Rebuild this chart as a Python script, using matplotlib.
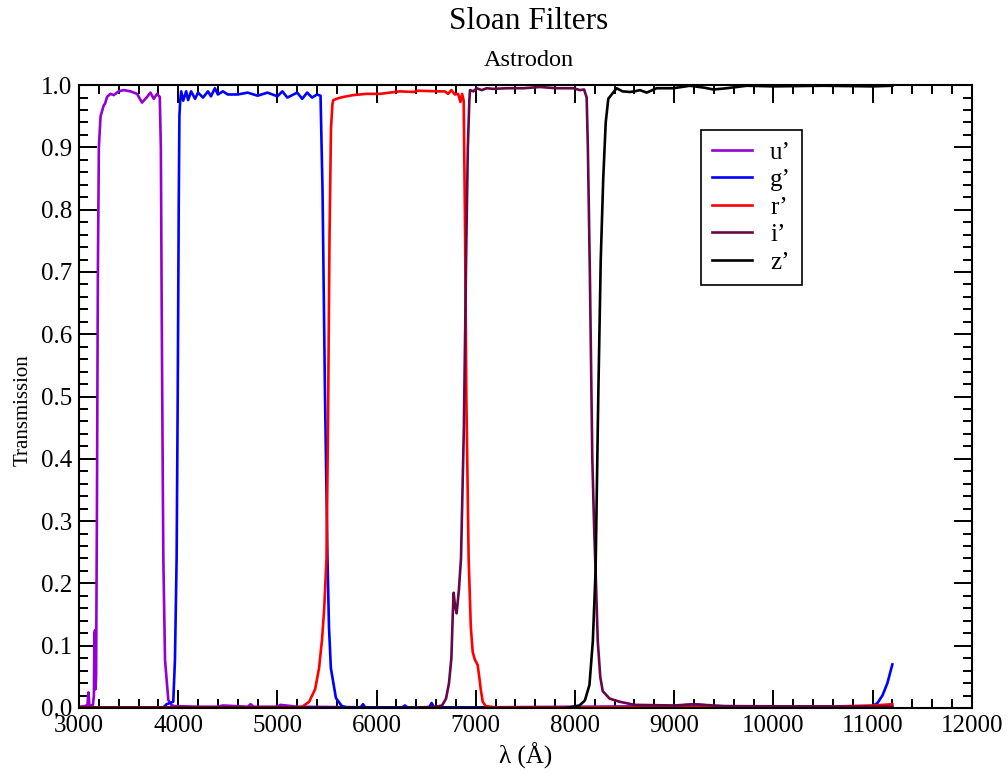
import matplotlib
matplotlib.use("Agg")
import matplotlib.pyplot as plt
from matplotlib.ticker import MultipleLocator, FormatStrFormatter

plt.rcParams["font.family"] = ["Liberation Serif", "DejaVu Serif"]

# Filtertransmission (vaglangd i Angstrom, transmission 0-1), avlast fran bilden
u_wl = [3000, 3060, 3085, 3095, 3105, 3140, 3150, 3155, 3162, 3166, 3172, 3180, 3190,
        3200, 3217, 3250, 3262, 3282, 3316, 3350, 3400, 3450, 3518, 3585, 3635, 3686,
        3720, 3753, 3787, 3814, 3825, 3835, 3843, 3850, 3867, 3900, 3930, 3960, 4200,
        4400, 4450, 4700, 4730, 4760, 5000, 5030, 5200, 6000, 7000, 8000, 9000, 9200,
        9400, 10000, 11200]
u_tr = [0.002, 0.003, 0.005, 0.025, 0.003, 0.005, 0.02, 0.12, 0.125, 0.03, 0.05, 0.3, 0.7,
        0.9, 0.95, 0.968, 0.97, 0.981, 0.986, 0.984, 0.99, 0.992, 0.99, 0.986, 0.972, 0.981,
        0.988, 0.978, 0.986, 0.981, 0.9, 0.6, 0.4, 0.24, 0.077, 0.013, 0.005, 0.003, 0.002,
        0.002, 0.004, 0.002, 0.006, 0.002, 0.002, 0.005, 0.002, 0.001, 0.001, 0.002, 0.003,
        0.006, 0.003, 0.002, 0.002]

g_wl = [3000, 3850, 3883, 3950, 3967, 3984, 3995, 4005, 4012, 4020, 4030, 4050, 4080,
        4100, 4130, 4170, 4200, 4250, 4300, 4330, 4370, 4400, 4450, 4500, 4600, 4700,
        4800, 4900, 5000, 5050, 5100, 5200, 5250, 5300, 5350, 5400, 5435, 5455, 5480,
        5505, 5520, 5539, 5590, 5650, 5700, 5840, 5863, 5885, 6260, 6286, 6310, 6530,
        6555, 6580, 7000, 8000, 9000, 10000, 10900, 11000, 11050, 11100, 11150, 11200]
g_tr = [0.0, 0.001, 0.006, 0.01, 0.077, 0.24, 0.5, 0.8, 0.95, 0.975, 0.99, 0.975, 0.99,
        0.976, 0.99, 0.978, 0.988, 0.98, 0.99, 0.982, 0.995, 0.985, 0.99, 0.985, 0.985, 0.988,
        0.983, 0.988, 0.982, 0.99, 0.98, 0.988, 0.978, 0.988, 0.98, 0.985, 0.983, 0.83, 0.5,
        0.24, 0.13, 0.064, 0.016, 0.003, 0.001, 0.001, 0.006, 0.001, 0.001, 0.004, 0.001, 0.001,
        0.008, 0.001, 0.001, 0.001, 0.001, 0.001, 0.002, 0.003, 0.008, 0.02, 0.04, 0.07]

r_wl = [3000, 5200, 5250, 5320, 5380, 5420, 5450, 5472, 5495, 5510, 5525, 5540, 5555,
        5564, 5614, 5665, 5765, 5900, 6034, 6135, 6235, 6370, 6420, 6637, 6687, 6721,
        6754, 6788, 6822, 6845, 6862, 6878, 6890, 6905, 6928, 6950, 6969, 6990, 7019,
        7035, 7050, 7070, 7100, 7200, 9000, 10500, 11000, 11200]
r_tr = [0.001, 0.001, 0.002, 0.01, 0.03, 0.064, 0.11, 0.16, 0.24, 0.45, 0.75, 0.93, 0.97,
        0.976, 0.979, 0.981, 0.984, 0.986, 0.986, 0.988, 0.99, 0.989, 0.991, 0.99, 0.99, 0.986,
        0.992, 0.985, 0.986, 0.973, 0.986, 0.975, 0.8, 0.5, 0.24, 0.13, 0.09, 0.078, 0.069,
        0.05, 0.03, 0.01, 0.003, 0.001, 0.001, 0.002, 0.004, 0.006]

i_wl = [3000, 6300, 6600, 6660, 6700, 6730, 6754, 6768, 6777, 6790, 6807, 6830, 6851,
        6880, 6905, 6920, 6935, 6942, 6976, 7009, 7060, 7110, 7177, 7312, 7480, 7648,
        7816, 7984, 8051, 8092, 8118, 8130, 8150, 8175, 8195, 8208, 8230, 8255, 8280,
        8350, 8450, 8600, 9000, 9200, 9500, 11200]
i_tr = [0.0, 0.0, 0.002, 0.004, 0.015, 0.04, 0.08, 0.15, 0.185, 0.165, 0.152, 0.19, 0.24,
        0.45, 0.75, 0.9, 0.975, 0.992, 0.99, 0.995, 0.992, 0.995, 0.994, 0.995, 0.995, 0.997,
        0.995, 0.995, 0.992, 0.993, 0.98, 0.9, 0.7, 0.4, 0.28, 0.22, 0.107, 0.05, 0.027,
        0.015, 0.01, 0.005, 0.004, 0.006, 0.003, 0.002]

z_wl = [3000, 7900, 7950, 8045, 8100, 8146, 8180, 8208, 8235, 8260, 8285, 8310, 8336,
        8370, 8420, 8480, 8554, 8600, 8655, 8723, 8823, 8991, 9159, 9300, 9395, 9530,
        9731, 10000, 10500, 11000, 11200]
z_tr = [0.0, 0.0, 0.001, 0.004, 0.012, 0.037, 0.107, 0.22, 0.5, 0.72, 0.85, 0.94, 0.978,
        0.985, 0.995, 0.99, 0.989, 0.99, 0.992, 0.988, 0.995, 0.995, 0.999, 0.996, 0.993, 0.995,
        0.999, 0.998, 0.999, 0.998, 0.999]

fig = plt.figure(figsize=(10.08, 7.81), dpi=100)
ax = fig.add_axes([0.0784, 0.0935, 0.8856, 0.7975])

lw = 1.9
ax.plot(u_wl, u_tr, color="#9400d3", lw=lw, label="u\u2019")
ax.plot(g_wl, g_tr, color="#0000ff", lw=lw, label="g\u2019")
ax.plot(r_wl, r_tr, color="#ff0000", lw=lw, label="r\u2019")
ax.plot(i_wl, i_tr, color="#670748", lw=lw, label="i\u2019")
ax.plot(z_wl, z_tr, color="#000000", lw=lw, label="z\u2019")

ax.set_xlim(3000, 12000)
ax.set_ylim(0, 1)
ax.xaxis.set_major_locator(MultipleLocator(1000))
ax.xaxis.set_minor_locator(MultipleLocator(200))
ax.yaxis.set_major_locator(MultipleLocator(0.1))
ax.yaxis.set_minor_locator(MultipleLocator(0.02))
ax.yaxis.set_major_formatter(FormatStrFormatter("%.1f"))
ax.tick_params(which="both", direction="in", top=True, right=True, width=1.4,
               labelsize=18, pad=5)
ax.tick_params(which="major", length=13)
ax.tick_params(which="minor", length=6.5)
for s in ax.spines.values():
    s.set_linewidth(1.5)

ax.set_xlabel("\u03bb (\u00c5)", fontsize=18, labelpad=4)
ax.set_ylabel("Transmission", fontsize=15)
ax.yaxis.set_label_coords(-0.052, 0.478)

fig.text(0.5245, 0.972, "Sloan Filters", ha="center", va="center", fontsize=22.5)
fig.text(0.5245, 0.923, "Astrodon", ha="center", va="center", fontsize=17.5)

leg = ax.legend(loc="upper left", bbox_to_anchor=(0.697, 0.928), fontsize=18,
                frameon=True, fancybox=False, edgecolor="black", framealpha=1,
                handlelength=1.6, handletextpad=0.7, labelspacing=0.2,
                borderpad=0.45, borderaxespad=0)
leg.get_frame().set_linewidth(1.2)

fig.savefig("out.png", dpi=100)
